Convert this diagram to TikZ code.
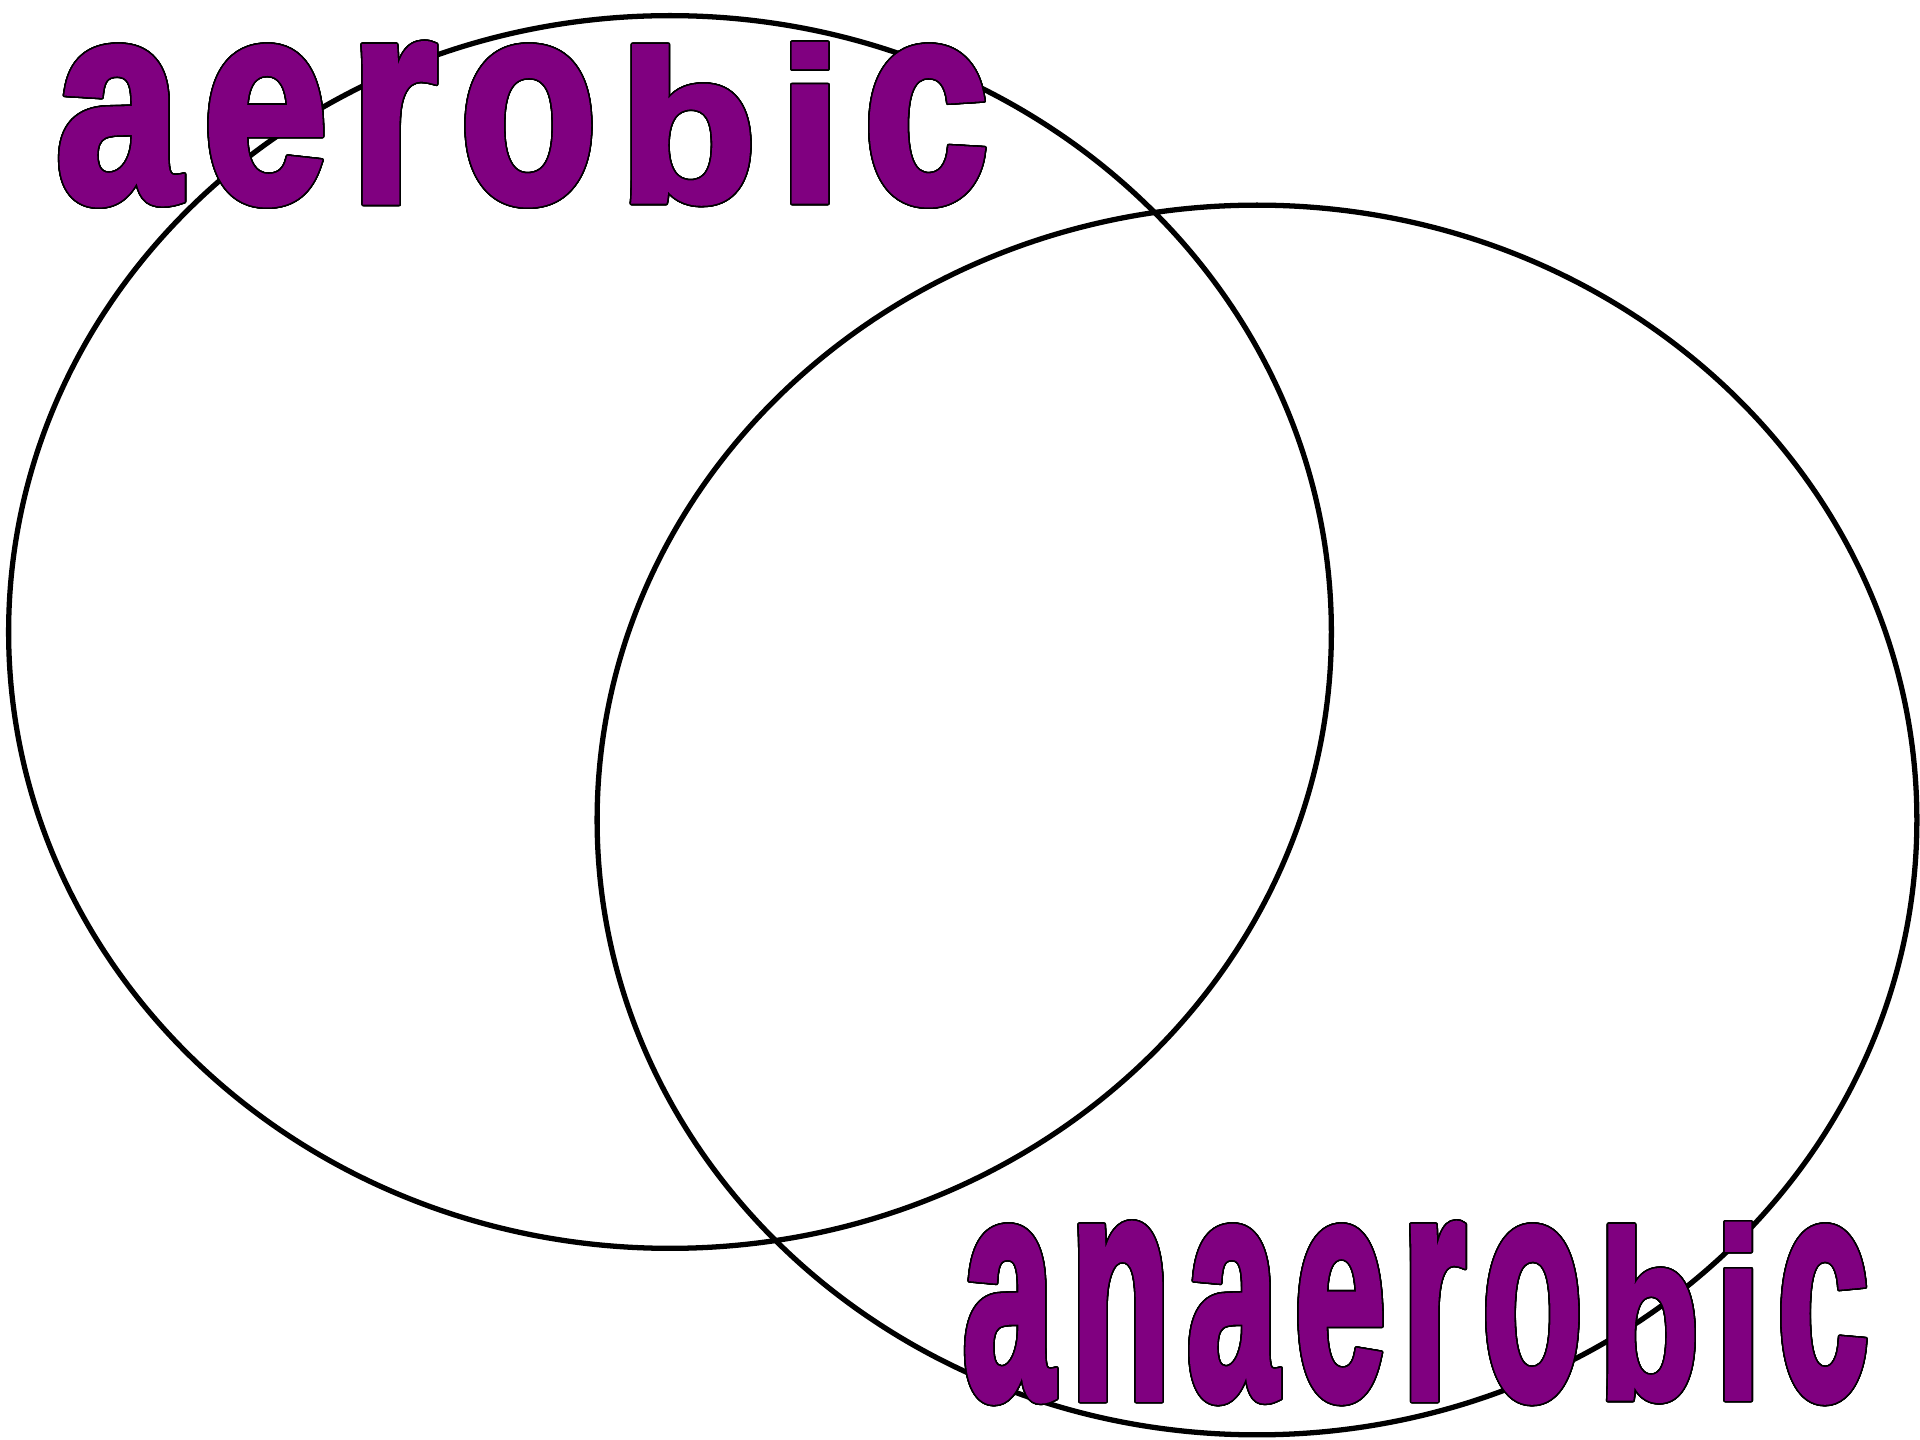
\documentclass[tikz,border=0pt]{standalone}
\usepackage{fontspec}
\setmainfont{Liberation Sans}
\newfontfamily\wordartfont[RawFeature={embolden=2.5}]{Liberation Sans Bold}
\usepackage{xcolor}
\usepackage{graphicx}
\usepackage{contour}
\usepackage{tikz}
\usetikzlibrary{shapes.geometric}

\definecolor{wapurple}{HTML}{800080}
\contourlength{0.45pt}
\contournumber{32}

% every letter stretched to the same height (word art look)
\newlength{\evencharwd}
\newcommand{\evenchar}[1]{\settowidth{\evencharwd}{#1}\resizebox*{\evencharwd}{1em}{#1}}
\newcommand{\evengap}{\hspace{0.1em}}

\begin{document}
\begin{tikzpicture}[x=0.01cm, y=-0.01cm,
            venn/.style={draw, ellipse, line width=1.5pt, inner sep=0pt},
            wordart/.style={inner sep=0pt, text=wapurple, font=\wordartfont}]

            \useasboundingbox (0,0) rectangle (1920,1440);

            % ===== the two sets =====
            \node[venn, minimum width=13.22cm, minimum height=12.32cm] (aerobicset) at (670,632) {};
            \node[venn, minimum width=13.19cm, minimum height=12.29cm] (anaerobicset) at (1257,820) {};

            % ===== labels =====
            \node[wordart, anchor=north west] (aerobic) at (55,44)
                {\contour{black}{\resizebox*{9.32cm}{1.59cm}{\evenchar{a}\evengap\evenchar{e}\evengap\evenchar{r}\evengap\evenchar{o}\evengap\evenchar{b}\evengap\evenchar{i}\evengap\evenchar{c}}}};
            \node[wordart, anchor=north west] (anaerobic) at (962,1224)
                {\contour{black}{\resizebox*{9.05cm}{1.76cm}{\evenchar{a}\evengap\evenchar{n}\evengap\evenchar{a}\evengap\evenchar{e}\evengap\evenchar{r}\evengap\evenchar{o}\evengap\evenchar{b}\evengap\evenchar{i}\evengap\evenchar{c}}}};
        \end{tikzpicture}
\end{document}
